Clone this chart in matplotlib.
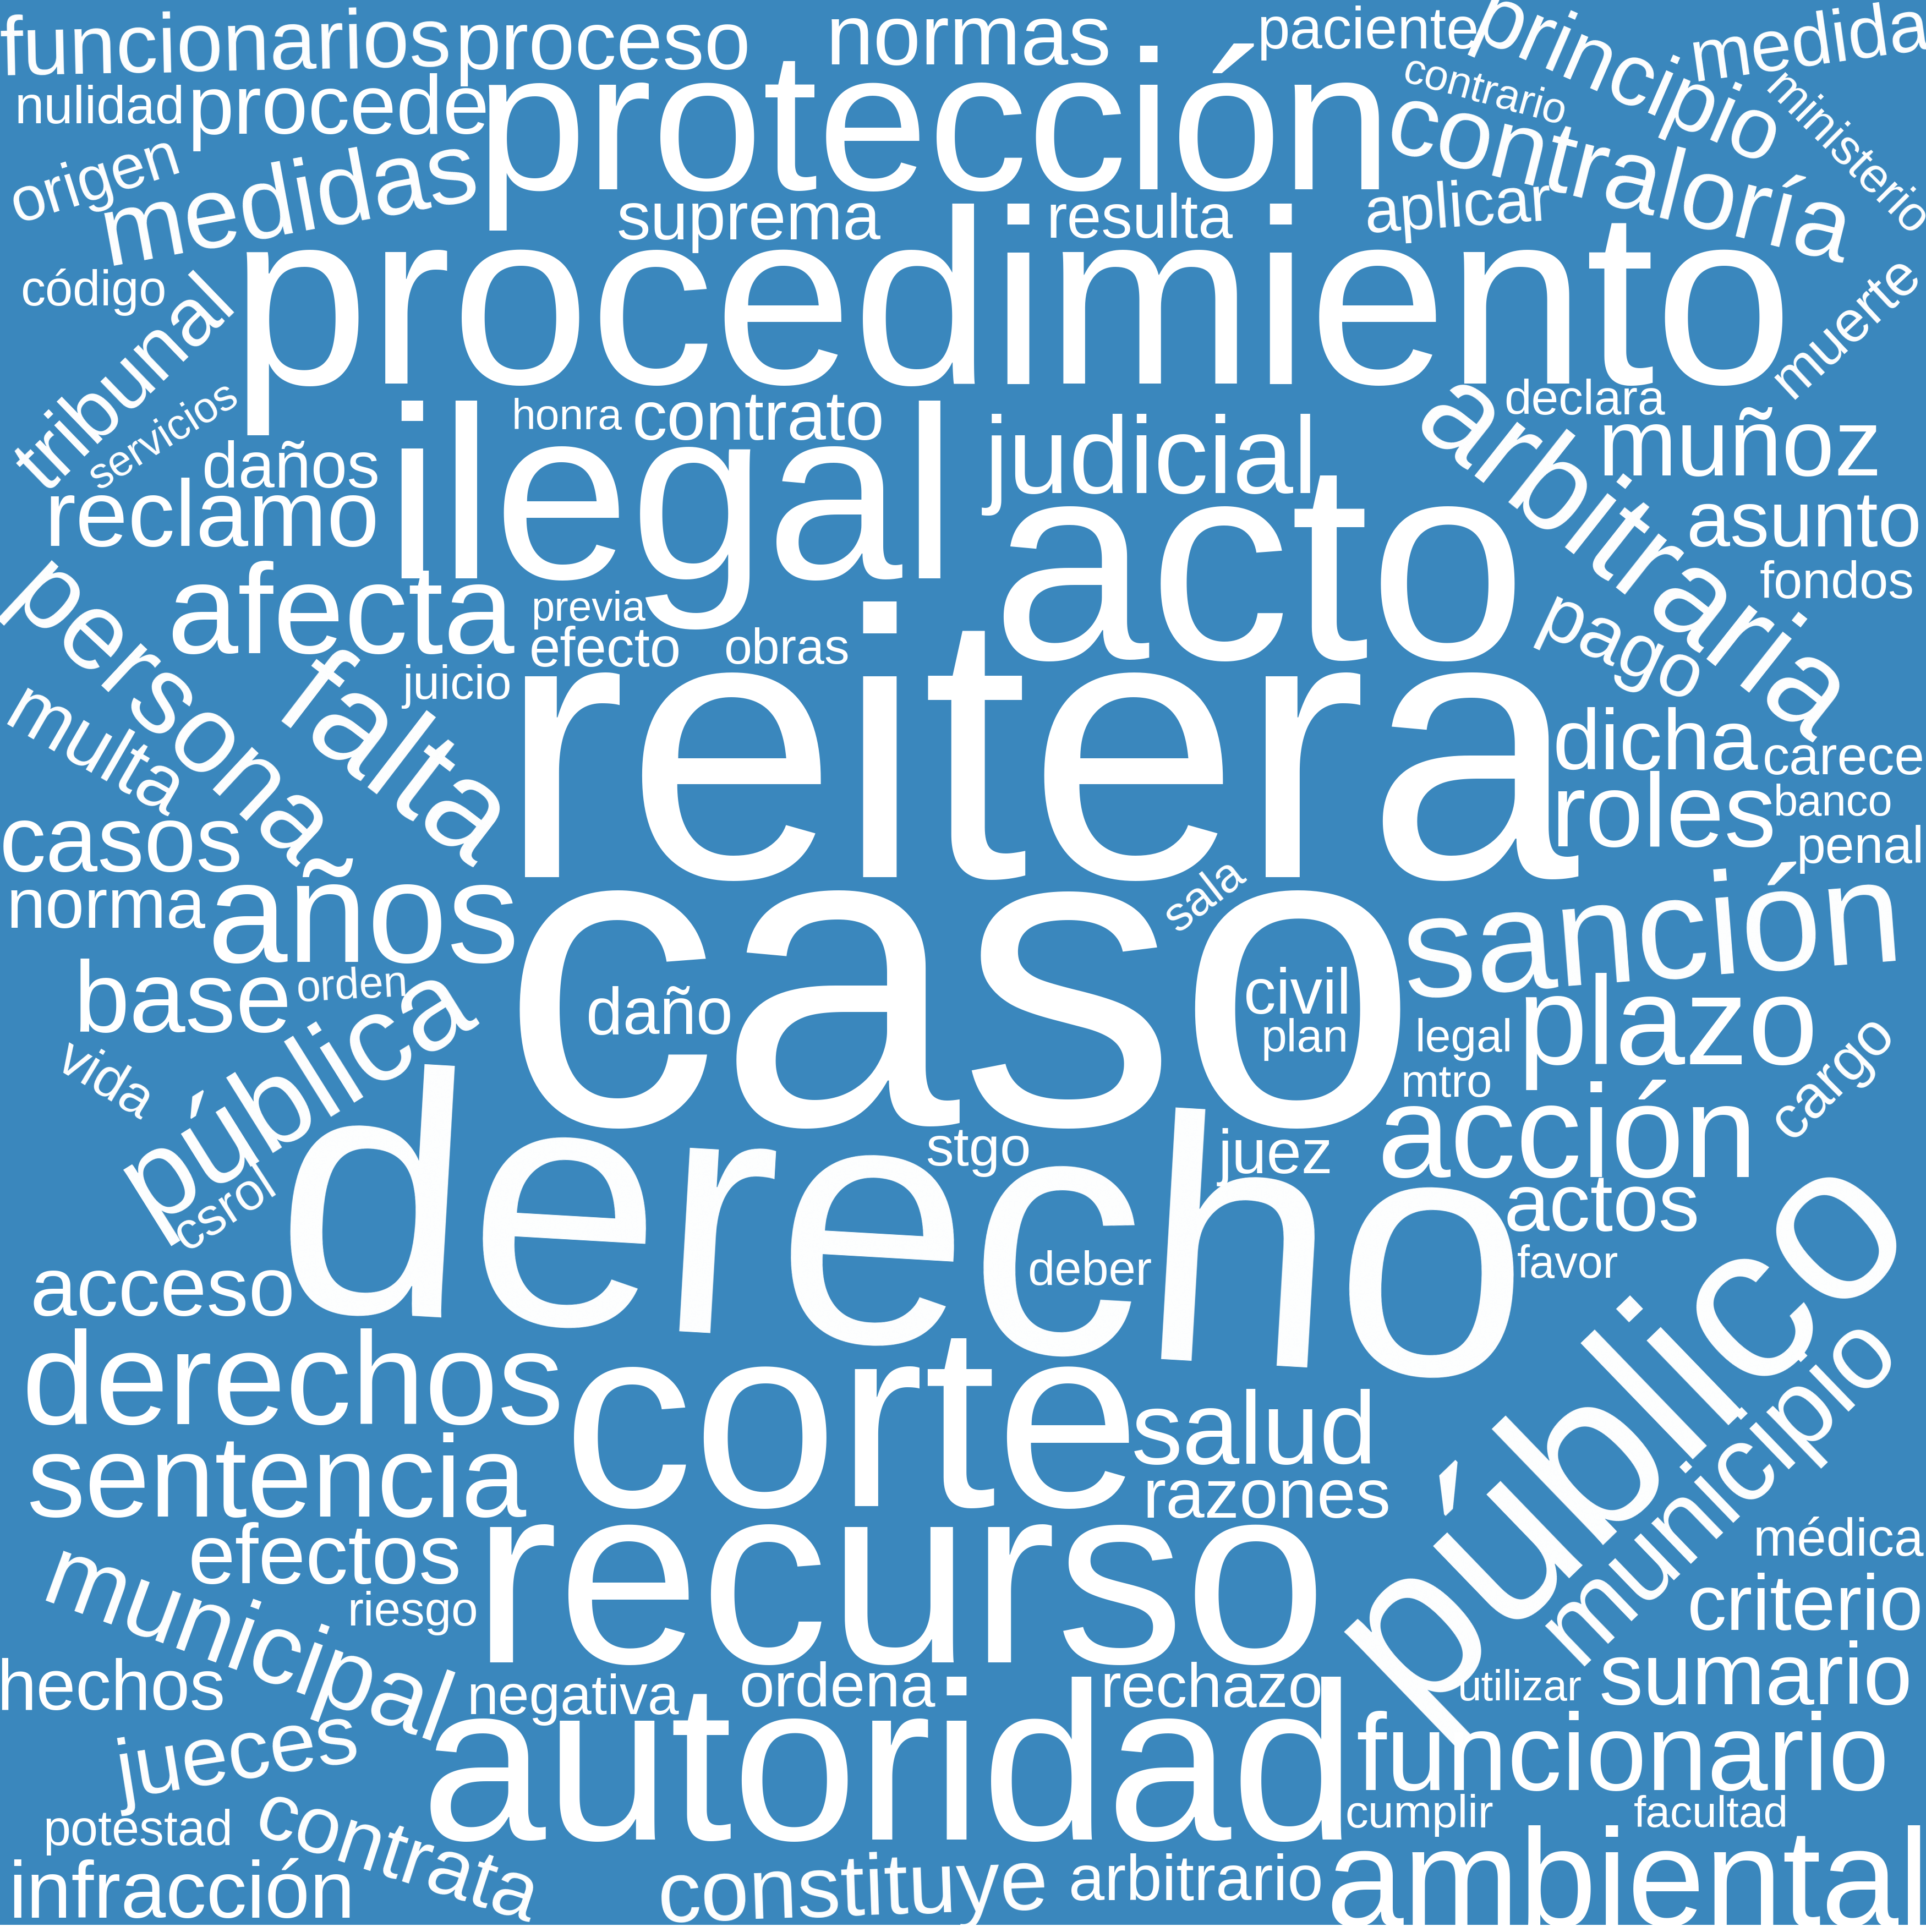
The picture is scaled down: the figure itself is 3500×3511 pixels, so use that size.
import matplotlib
matplotlib.use("Agg")
import matplotlib.pyplot as plt

# words of the cloud
words = ["funcionarios", "proceso", "normas", "paciente", "protección", "principio",
         "medida", "contrario", "ministerio", "nulidad", "procede", "origen",
         "medidas", "suprema", "resulta", "aplicar", "contraloría", "procedimiento",
         "código", "tribunal", "muerte", "servicios", "honra", "contrato",
         "declara", "daños", "reclamo", "ilegal", "judicial", "muñoz",
         "arbitraria", "asunto", "fondos", "acto", "afecta", "previa",
         "efecto", "obras", "persona", "juicio", "falta", "pago",
         "reitera", "dicha", "carece", "multa", "roles", "banco",
         "casos", "penal", "norma", "años", "sala", "caso",
         "sanción", "base", "orden", "daño", "civil", "plan",
         "legal", "plazo", "vida", "pública", "mtro", "cargo",
         "stgo", "juez", "acción", "csrol", "derecho", "actos",
         "deber", "favor", "acceso", "público", "derechos", "corte",
         "salud", "municipio", "razones", "sentencia", "médica", "efectos",
         "riesgo", "municipal", "recurso", "criterio", "hechos", "negativa",
         "ordena", "rechazo", "utilizar", "sumario", "jueces", "autoridad",
         "funcionario", "potestad", "contrata", "cumplir", "facultad", "infracción",
         "constituye", "arbitrario", "ambiental"]

# layout (units: reference pixels scaled to 1563 x 1568)
# centre of the lowercase band, length of the word along its direction, angle
pos_x = [183, 489, 786, 1110, 758, 1320,
         1469, 1205, 1498, 81, 274.6, 77.5,
         235, 607.5, 925, 1183, 1313.5, 821,
         76, 103, 1499, 133, 460, 615.5,
         1286, 236, 172, 544.5, 934, 1412,
         1323.6, 1464, 1490.6, 1021.6, 276.6, 477.5,
         491, 638.5, 137, 371, 318.5, 1315,
         843, 1343.5, 1496, 76.5, 1350, 1487.4,
         98.4, 1509.7, 86, 295, 978, 779,
         1341, 148.3, 286, 535.3, 1053, 1058.7,
         1187.7, 1353.5, 85, 241, 1174, 1488,
         794, 1035, 1272, 183, 732, 1300,
         884.5, 1272.5, 132, 1318, 237.5, 691,
         1017.8, 1396, 1027.8, 224.3, 1491.8, 263.4,
         334.7, 200, 730, 1465, 90, 464.8,
         679.3, 983, 1233.4, 1424.6, 193, 721,
         1316.7, 112, 322, 1151.7, 1388.4, 147.5,
         692, 970.5, 1321]
pos_y = [40, 39, 34, 27, 111, 66,
         37, 75, 126, 89, 91, 147.5,
         167, 180, 180, 170, 147, 259,
         237, 313, 266, 354, 339, 342,
         326, 382, 423, 418, 377, 366,
         455.4, 427, 474.5, 475, 503, 495,
         529, 528, 581, 557, 620, 528,
         631.6, 606, 617, 611.5, 665, 652.5,
         686.7, 689, 738, 750, 727, 821,
         764, 816, 801, 825, 809, 843.5,
         843.5, 836.7, 877, 888, 880, 875,
         934, 939, 927.5, 982, 1018, 981.7,
         1032.5, 1027, 1050, 1160, 1127.6, 1167.7,
         1166, 1209, 1216.6, 1206, 1251, 1267,
         1308.7, 1337.5, 1295, 1305.7, 1372, 1379,
         1371.5, 1371.8, 1370.4, 1364, 1427, 1445.5,
         1429.5, 1486.5, 1508, 1473, 1473, 1539,
         1536, 1528, 1533]
length = [356, 233, 225, 175, 722, 256,
          190, 132, 165, 134, 238, 137.5,
          300, 208, 147, 148, 374, 1231,
          115, 212, 142, 132, 87, 199,
          127, 140, 264, 451, 263, 224,
          403, 185, 122, 422, 274, 90,
          120, 99, 312, 86, 200, 135,
          850, 162, 128, 151, 177.5, 94,
          192, 100.6, 157, 246, 70, 723,
          395, 172, 88, 115.6, 84.7, 69,
          77, 237, 80.6, 306, 72, 118,
          83, 90.6, 300, 87, 988, 154.5,
          98, 80, 209, 555, 427, 455,
          193.5, 355, 195.5, 393.7, 134.5, 215.8,
          103, 334, 673, 186, 180, 167,
          154.5, 175.5, 98, 247, 192, 737,
          420, 149.6, 230, 117, 122, 273,
          308, 200.4, 476]
angle = [1.2, 0, 0, 0, 0, -23.5,
         8, -15.4, -45, 0, 0, 17.6,
         10.4, 0, 0, 4, -14, 0,
         0, 44, 43, 32, 0, 0,
         0, 0, 0, 0, 0, 0,
         -38.3, 0, 0, 0, 0, 0,
         0, 0, -43, 0, -37.5, -25,
         0, 0, 0, -30, 0, 0,
         0, 0, 0, 0, 38, 0,
         4.4, 0, 3, 0, 0, 0,
         0, 0, -31, 32, 0, 45,
         0, 0, 0, 33, -3.3, 0,
         0, 0, 0, 44, 0, 0,
         0, 44, 0, 0, 0, 0,
         0, -20, 0, 0, 0, 0,
         0, 0, 0, 0, 9, 0,
         0, 0, -18, 0, 0, 0,
         2, 0, 0]

W, H = 1563, 1568
bg = "#3a87bd"
# the reference glyphs are a little taller for the same word length
size_boost = 1.03

fig = plt.figure(figsize=(35, 35.12), dpi=100)
fig.patch.set_facecolor("white")
# the blue panel stops a few pixels above the bottom edge
ax = fig.add_axes([0, 13 / 3512, 1, 3499 / 3512])
ax.set_facecolor(bg)
ax.set_xlim(0, W)
ax.set_ylim(H * 3499 / 3512, 0)
ax.set_xticks([])
ax.set_yticks([])
for s in ax.spines.values():
    s.set_visible(False)

renderer = fig.canvas.get_renderer()
px_per_unit = 3500 / W

for w, x, y, L, a in zip(words, pos_x, pos_y, length, angle):
    t = ax.text(x, y, w, fontsize=100, family="Liberation Sans", color="white",
                ha="center", va="center", rotation_mode="anchor", clip_on=True)
    # scale font so the word has the measured length
    width = t.get_window_extent(renderer).width
    t.set_fontsize(100 * L * px_per_unit / width * size_boost)
    t.set_rotation(a)

fig.savefig("out.png", dpi=100, facecolor=fig.get_facecolor())
